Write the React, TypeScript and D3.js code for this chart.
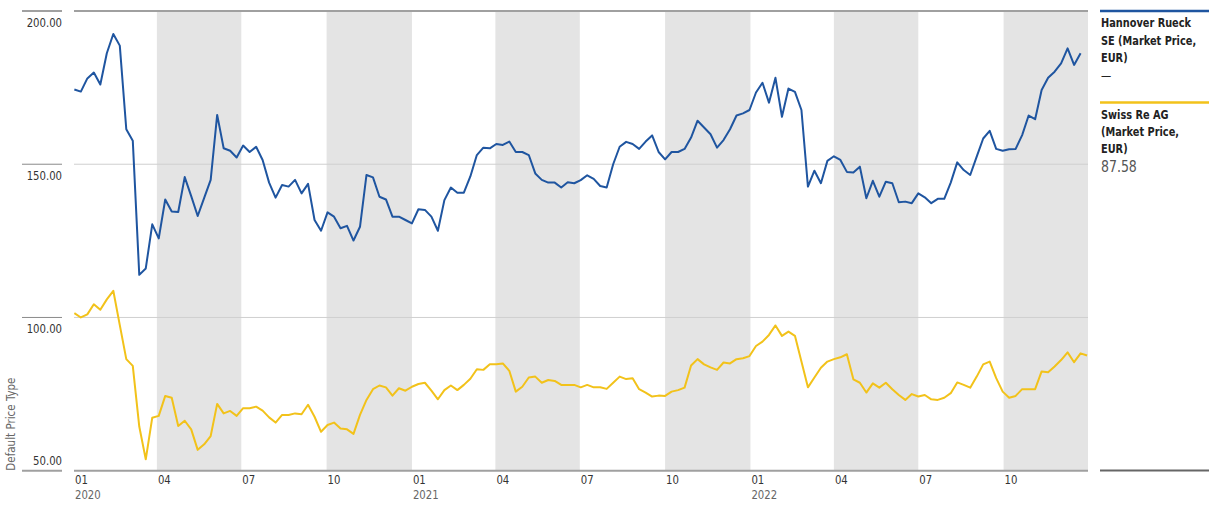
import React from "react";
import * as d3 from "d3";

// ---- Data ----
const seriesNames = ["Hannover Rueck SE (Market Price, EUR)", "Swiss Re AG (Market Price, EUR)"];
const firstWeek = new Date(2020, 0, 3); // weekly observations from this date
const hannover = [
  174.4, 173.7, 178.0, 179.9, 176.0, 186.2, 192.5, 188.7, 161.4, 157.7,
  113.9, 116.0, 130.4, 125.8, 138.5, 134.6, 134.4, 145.8, 139.6, 133.1,
  139.0, 144.9, 166.1, 155.2, 154.4, 152.2, 156.1, 154.0, 155.7, 151.4,
  144.0, 139.1, 143.2, 142.7, 144.9, 140.5, 143.6, 131.8, 128.3, 134.3,
  132.9, 129.1, 129.9, 125.1, 129.6, 146.5, 145.7, 139.4, 138.5, 132.9,
  132.9, 131.8, 130.7, 135.3, 135.1, 132.9, 128.3, 138.3, 142.4, 140.7,
  140.7, 146.0, 153.0, 155.4, 155.2, 156.6, 156.3, 157.4, 154.0, 154.0,
  153.0, 147.0, 144.9, 144.0, 144.0, 142.4, 144.1, 143.8, 144.8, 146.4,
  145.2, 142.9, 142.4, 150.0, 155.7, 157.3, 156.6, 155.0, 157.4, 159.4,
  154.0, 151.6, 154.0, 154.0, 155.0, 158.7, 164.2, 162.0, 159.8, 155.4,
  157.9, 161.4, 165.9, 166.6, 167.7, 173.4, 176.6, 170.1, 178.2, 165.5,
  174.7, 173.6, 167.7, 142.7, 147.9, 143.8, 151.1, 152.6, 151.4, 147.5,
  147.3, 149.2, 138.9, 144.6, 139.4, 144.3, 143.8, 137.6, 137.8, 137.3,
  140.5, 139.2, 137.3, 138.7, 138.7, 144.0, 150.6, 148.1, 146.5, 152.5,
  158.4, 160.9, 155.0, 154.4, 154.9, 155.0, 159.5, 165.9, 164.7, 174.2,
  178.2, 180.2, 182.9, 187.8, 182.4, 186.2,
];
const swissRe = [
  101.4, 100.0, 101.0, 104.3, 102.5, 105.9, 108.7, 97.5, 86.4, 84.2,
  64.4, 53.7, 67.3, 67.9, 74.4, 73.8, 64.6, 66.3, 63.5, 56.8,
  58.6, 61.3, 71.8, 68.7, 69.5, 67.9, 70.4, 70.4, 70.9, 69.6,
  67.4, 65.7, 68.2, 68.2, 68.7, 68.4, 71.5, 67.6, 62.7, 64.9,
  65.7, 63.8, 63.5, 62.0, 68.2, 73.1, 76.6, 77.8, 77.2, 74.5,
  76.9, 76.1, 77.4, 78.3, 78.7, 76.1, 73.3, 76.3, 77.8, 76.3,
  78.0, 80.0, 83.1, 82.9, 84.7, 84.7, 85.0, 82.6, 75.8, 77.4,
  80.4, 80.7, 78.7, 79.6, 79.3, 78.0, 78.0, 78.0, 77.2, 78.0,
  77.2, 77.2, 76.7, 78.7, 80.7, 79.9, 80.2, 76.6, 75.5, 74.2,
  74.5, 74.4, 75.8, 76.3, 77.1, 84.3, 86.4, 84.7, 83.7, 82.9,
  85.3, 85.0, 86.4, 86.7, 87.4, 90.7, 92.1, 94.3, 97.4, 94.0,
  95.4, 94.0, 85.6, 77.2, 80.4, 83.6, 85.6, 86.4, 87.0, 88.0,
  79.8, 78.7, 75.5, 78.5, 77.1, 78.7, 76.6, 74.7, 73.1, 75.0,
  74.2, 74.7, 73.3, 73.1, 73.8, 75.3, 78.8, 78.0, 77.1, 80.7,
  84.7, 85.6, 80.2, 75.8, 73.8, 74.4, 76.6, 76.6, 76.6, 82.4,
  82.1, 84.0, 86.1, 88.6, 85.4, 88.3, 87.58,
];
const yTicks = [50, 100, 150, 200];
const legendValues = ["—", "87.58"];

const FONT = "'Liberation Sans Narrow', 'DejaVu Sans Condensed', 'Roboto', sans-serif";
const BLUE = "#1f55a0";
const YELLOW = "#f2c21a";

export default function App() {
  const W = 1215, H = 514;
  const left = 74, right = 1088, top = 11, bottom = 470.7;
  const x = d3.scaleTime().domain([new Date(2020, 0, 1), new Date(2022, 11, 31)]).range([72.5, right]);
  const y = d3.scaleLinear().domain([50, 200]).range([bottom, top]);
  const dateAt = (i: number) => d3.timeDay.offset(firstWeek, 7 * i);

  const line = d3.line<number>().x((_, i) => x(dateAt(i))).y((v) => y(v));

  const quarters = d3.timeMonth.every(3)!.range(new Date(2020, 0, 1), new Date(2023, 0, 1));
  const bands = quarters.filter((q) => q.getMonth() === 3 || q.getMonth() === 9).map((q) => {
    const end = d3.timeMonth.offset(q, 3);
    return [Math.max(x(q), left), Math.min(x(end), right)];
  });

  return (
    <svg width={W} height={H} style={{ position: "absolute", left: 0, top: 0, background: "#fff" }} fontFamily={FONT}>
      {bands.map(([a, b], i) => (
        <rect key={i} x={a} y={top} width={b - a} height={bottom - top} fill="#e4e4e4" />
      ))}
      {yTicks.map((t) => {
        const edge = t === 200 || t === 50;
        return (
          <g key={t}>
            <line x1={left} x2={right} y1={y(t)} y2={y(t)} stroke={edge ? "#a0a0a0" : "#cfcfcf"} strokeWidth={edge ? 2 : 1} />
            <line x1={22} x2={62} y1={y(t)} y2={y(t)} stroke={edge ? "#a0a0a0" : "#8a8a8a"} strokeWidth={edge ? 2 : 1} />
            <g transform={`translate(62,${t === 50 ? y(t) - 6 : y(t) + 16}) scale(0.9,1)`}>
              <text x={0} y={0} textAnchor="end" fontSize={12.5} fill="#333">
                {t.toFixed(2)}
              </text>
            </g>
          </g>
        );
      })}
      <text transform={`translate(15,${bottom}) rotate(-90)`} fontSize={11.5} fill="#666">
        Default Price Type
      </text>
      {quarters.map((q, i) => {
        const px = Math.max(x(q), left) + 1;
        return (
          <g key={i} transform={`translate(${px},0) scale(0.9,1)`}>
            <text x={0} y={484} fontSize={12.5} fill="#333">{d3.timeFormat("%m")(q)}</text>
            {q.getMonth() === 0 && (
              <text x={0} y={499} fontSize={12.5} fill="#666">{d3.timeFormat("%Y")(q)}</text>
            )}
          </g>
        );
      })}
      <path d={line(swissRe) || ""} fill="none" stroke={YELLOW} strokeWidth={2} strokeLinejoin="round" />
      <path d={line(hannover) || ""} fill="none" stroke={BLUE} strokeWidth={2} strokeLinejoin="round" />

      {/* Legend */}
      <line x1={1100} x2={1209} y1={11} y2={11} stroke={BLUE} strokeWidth={2.5} />
      <line x1={1100} x2={1209} y1={102.5} y2={102.5} stroke={YELLOW} strokeWidth={2.5} />
      <line x1={1100} x2={1209} y1={470.5} y2={470.5} stroke="#666" strokeWidth={2} />
      <g transform="translate(1101,0) scale(0.87,1)">
        <text fontSize={12.5} fontWeight="bold" fill="#222">
          <tspan x={0} y={27}>Hannover Rueck</tspan>
          <tspan x={0} y={45}>SE (Market Price,</tspan>
          <tspan x={0} y={62}>EUR)</tspan>
        </text>
        <text x={0} y={80} fontSize={13} fill="#222">{legendValues[0]}</text>
        <text fontSize={12.5} fontWeight="bold" fill="#222">
          <tspan x={0} y={119}>Swiss Re AG</tspan>
          <tspan x={0} y={136}>(Market Price,</tspan>
          <tspan x={0} y={153}>EUR)</tspan>
        </text>
        <text x={0} y={172} fontSize={16} fill="#555">{legendValues[1]}</text>
      </g>
      <title>{seriesNames.join(" / ")}</title>
    </svg>
  );
}
